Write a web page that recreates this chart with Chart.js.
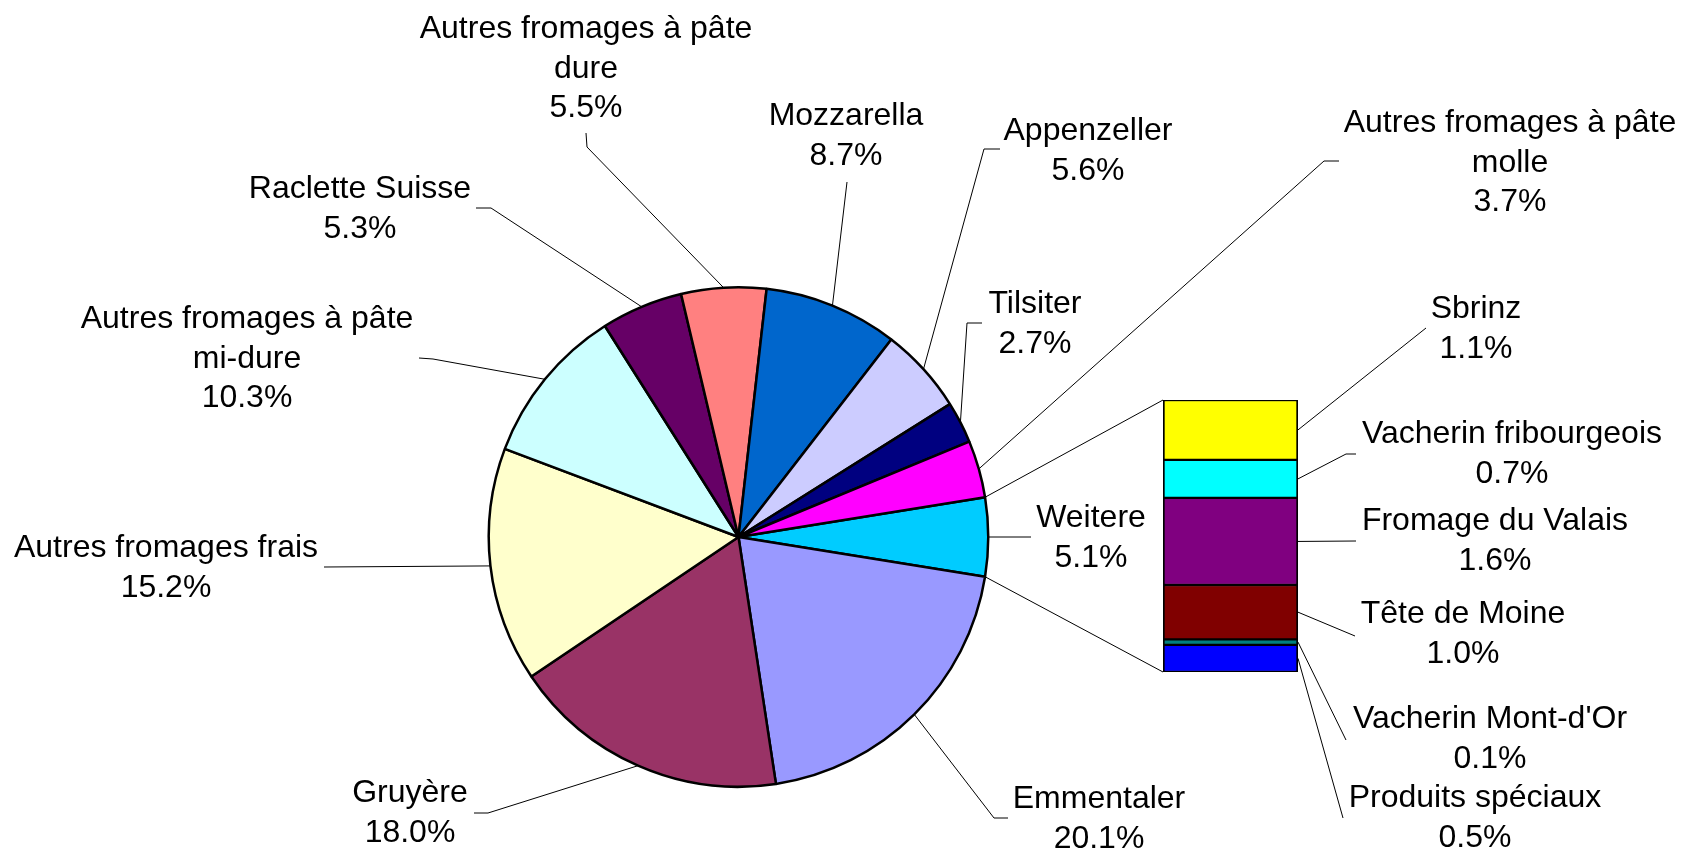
<!DOCTYPE html>
<html>
<head>
<meta charset="utf-8">
<script src="https://cdn.jsdelivr.net/npm/chart.js@4"></script>
<style>
  html, body { margin: 0; padding: 0; background: #fff; overflow: hidden; }
  #wrap { position: relative; width: 1682px; height: 852px; }
  canvas { position: absolute; left: 0; top: 0; }
</style>
</head>
<body>
<div id="wrap">
  <canvas id="pieChart" width="1682" height="852"></canvas>
  <canvas id="barChart" width="1682" height="852"></canvas>
</div>
<script>
// pie slices, clockwise starting with the "Weitere" slice that is broken out in the bar
const pieLabels = [
  "Weitere",
  "Emmentaler",
  "Gruyère",
  "Autres fromages frais",
  ["Autres fromages à pâte", "mi-dure"],
  "Raclette Suisse",
  ["Autres fromages à pâte", "dure"],
  "Mozzarella",
  "Appenzeller",
  "Tilsiter",
  ["Autres fromages à pâte", "molle"]
];
const pieValues = [5.1, 20.1, 18.0, 15.2, 10.3, 5.3, 5.5, 8.7, 5.6, 2.7, 3.7];
const pieColors = ["#00CCFF", "#9999FF", "#993366", "#FFFFCC", "#CCFFFF", "#660066",
                   "#FF8080", "#0066CC", "#CCCCFF", "#000080", "#FF00FF"];

// stacked bar, top to bottom
const barLabels = ["Sbrinz", "Vacherin fribourgeois", "Fromage du Valais",
                   "Tête de Moine", "Vacherin Mont-d'Or", "Produits spéciaux"];
const barValues = [1.1, 0.7, 1.6, 1.0, 0.1, 0.5];
const barColors = ["#FFFF00", "#00FFFF", "#800080", "#800000", "#008080", "#0000FF"];

// label placement: text centre x, first baseline y, leader points before the mark
const pieLabelLayout = [
  { x: 1091, y: 527, leader: [[1031, 537]] },
  { x: 1099, y: 808, leader: [[1008, 818], [994, 818]] },
  { x: 410, y: 802, leader: [[474, 813], [488, 813]] },
  { x: 166, y: 557, leader: [[324, 567]] },
  { x: 247, y: 328, leader: [[419, 358], [433, 359]] },
  { x: 360, y: 198, leader: [[476, 208], [491, 208]] },
  { x: 586, y: 38, leader: [[586, 133], [587, 147]] },
  { x: 846, y: 125, leader: [[847, 182]] },
  { x: 1088, y: 140, leader: [[1000, 149], [984, 149]] },
  { x: 1035, y: 313, leader: [[982, 323], [967, 323]] },
  { x: 1510, y: 132, leader: [[1339, 161], [1324, 161]] }
];
const barLabelLayout = [
  { x: 1476, y: 318, leader: [[1426, 328]] },
  { x: 1512, y: 443, leader: [[1356, 454], [1346, 454]] },
  { x: 1495, y: 530, leader: [[1356, 541]] },
  { x: 1463, y: 623, leader: [[1355, 636]] },
  { x: 1490, y: 728, leader: [[1346, 740]] },
  { x: 1475, y: 807, leader: [[1343, 818]] }
];

const FONT = '32px "Liberation Sans", Arial, sans-serif';
const LINE_H = 39.5;

function drawLabel(ctx, label, value, pos, end) {
  ctx.save();
  ctx.strokeStyle = "#000";
  ctx.lineWidth = 1;
  ctx.beginPath();
  ctx.moveTo(pos.leader[0][0], pos.leader[0][1]);
  pos.leader.slice(1).forEach(p => ctx.lineTo(p[0], p[1]));
  ctx.lineTo(end[0], end[1]);
  ctx.stroke();

  ctx.font = FONT;
  ctx.fillStyle = "#000";
  ctx.textAlign = "center";
  ctx.textBaseline = "alphabetic";
  const lines = [].concat(label, value.toFixed(1) + "%");
  lines.forEach((t, i) => ctx.fillText(t, pos.x, pos.y + i * LINE_H));
  ctx.restore();
}

const pieLabelPlugin = {
  id: "pieLabels",
  afterDraw(chart) {
    const meta = chart.getDatasetMeta(0);
    meta.data.forEach((arc, i) => {
      const p = arc.getProps(["x", "y", "startAngle", "endAngle", "outerRadius"], true);
      const mid = (p.startAngle + p.endAngle) / 2;
      const end = [p.x + Math.cos(mid) * p.outerRadius, p.y + Math.sin(mid) * p.outerRadius];
      drawLabel(chart.ctx, pieLabels[i], pieValues[i], pieLabelLayout[i], end);
    });
  }
};

const total = pieValues.reduce((a, b) => a + b, 0);
const barTotal = barValues.reduce((a, b) => a + b, 0);

const pieChart = new Chart(document.getElementById("pieChart"), {
  type: "pie",
  data: {
    labels: pieLabels,
    datasets: [{
      data: pieValues,
      backgroundColor: pieColors,
      borderColor: "#000",
      borderWidth: 2.5
    }]
  },
  options: {
    responsive: false,
    animation: false,
    // centre the first slice on the right-hand horizontal
    rotation: 90 - pieValues[0] / total * 180,
    layout: { padding: { left: 487, top: 286, right: 692, bottom: 64 } },
    plugins: { legend: { display: false }, tooltip: { enabled: false } }
  },
  plugins: [pieLabelPlugin]
});

const barLabelPlugin = {
  id: "barLabels",
  afterDraw(chart) {
    const ctx = chart.ctx;
    let left = Infinity, top = Infinity, bottom = -Infinity;
    barLabels.forEach((name, i) => {
      const bar = chart.getDatasetMeta(i).data[0];
      const p = bar.getProps(["x", "y", "base", "width"], true);
      left = Math.min(left, p.x - p.width / 2);
      top = Math.min(top, p.y, p.base);
      bottom = Math.max(bottom, p.y, p.base);
      const end = [p.x + p.width / 2, (p.y + p.base) / 2];
      drawLabel(ctx, name, barValues[i], barLabelLayout[i], end);
    });

    // connectors from the broken-out pie slice to the bar
    const arc = pieChart.getDatasetMeta(0).data[0];
    const a = arc.getProps(["x", "y", "startAngle", "endAngle", "outerRadius"], true);
    ctx.save();
    ctx.strokeStyle = "#000";
    ctx.lineWidth = 1;
    ctx.beginPath();
    ctx.moveTo(a.x + Math.cos(a.startAngle) * a.outerRadius, a.y + Math.sin(a.startAngle) * a.outerRadius);
    ctx.lineTo(left, top);
    ctx.moveTo(a.x + Math.cos(a.endAngle) * a.outerRadius, a.y + Math.sin(a.endAngle) * a.outerRadius);
    ctx.lineTo(left, bottom);
    ctx.stroke();
    ctx.restore();
  }
};

new Chart(document.getElementById("barChart"), {
  type: "bar",
  data: {
    labels: [""],
    datasets: barLabels.map((name, i) => ({
      label: name,
      data: [barValues[i]],
      backgroundColor: barColors[i],
      borderColor: "#000",
      borderWidth: { left: 2, right: 2, top: 1.5, bottom: 1.5 },
      borderSkipped: false,
      barPercentage: 1,
      categoryPercentage: 1
    }))
  },
  options: {
    responsive: false,
    animation: false,
    layout: { padding: { left: 1163, top: 400, right: 384, bottom: 180 } },
    scales: {
      x: { display: false, stacked: true },
      y: { display: false, stacked: true, reverse: true, min: 0, max: barTotal }
    },
    plugins: { legend: { display: false }, tooltip: { enabled: false } }
  },
  plugins: [barLabelPlugin]
});
</script>
</body>
</html>
